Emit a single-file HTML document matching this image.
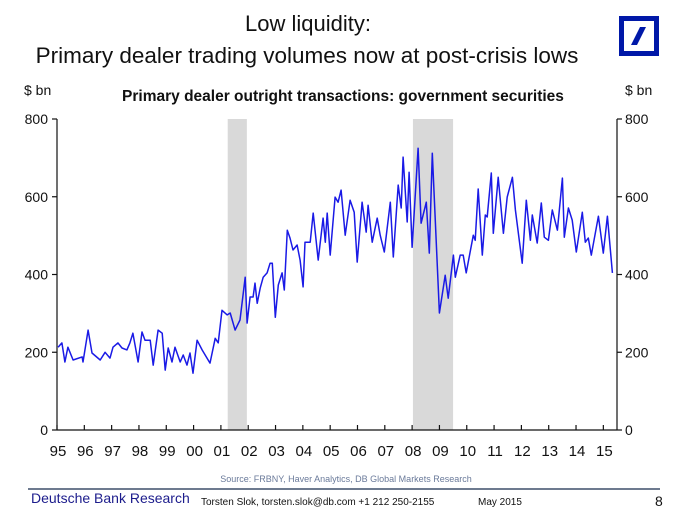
<!DOCTYPE html>
<html><head><meta charset="utf-8"><style>
body{margin:0;background:#fff;}
svg{display:block;font-family:"Liberation Sans",Arial,sans-serif;}
</style></head><body>
<svg id="c" width="687" height="528" viewBox="0 0 687 528">
<text x="308" y="31" text-anchor="middle" font-size="22" fill="#111">Low liquidity:</text>
<text x="307" y="63" text-anchor="middle" font-size="22.5" fill="#111">Primary dealer trading volumes now at post-crisis lows</text>
<g>
<rect x="621.5" y="18.5" width="35" height="35" fill="#fff" stroke="#0018a8" stroke-width="5"/>
<polygon points="640,27 646,27 637,45 631,45" fill="#0018a8"/>
</g>
<text x="343" y="101" text-anchor="middle" font-size="15.5" font-weight="bold" fill="#111">Primary dealer outright transactions: government securities</text>
<text x="24" y="95" font-size="14" fill="#111">$ bn</text>
<text x="625" y="95" font-size="14" fill="#111">$ bn</text>
<g id="rec"></g>
<g id="axes"></g>
<path id="line" fill="none" stroke="#1a1ae6" stroke-width="1.5" stroke-linejoin="round"/>
<text x="346" y="482" text-anchor="middle" font-size="9" fill="#6a7a9a">Source: FRBNY, Haver Analytics, DB Global Markets Research</text>
<line x1="28" y1="489" x2="660" y2="489" stroke="#6d7a8f" stroke-width="2"/>
<text x="31" y="503" font-size="14" fill="#1c1c8c">Deutsche Bank Research</text>
<text x="201" y="505" font-size="10" fill="#111">Torsten Slok, torsten.slok@db.com  +1 212 250-2155</text>
<text x="478" y="505" font-size="10" fill="#111">May 2015</text>
<text x="655" y="506" font-size="14" fill="#111">8</text>
</svg>
<script>
const years=[1995.04,1995.18,1995.29,1995.40,1995.59,1995.92,1995.95,1996.14,1996.28,1996.58,1996.76,1996.94,1997.05,1997.23,1997.38,1997.56,1997.67,1997.78,1997.97,1998.11,1998.22,1998.41,1998.52,1998.70,1998.85,1998.96,1999.07,1999.21,1999.32,1999.51,1999.62,1999.76,1999.87,1999.98,2000.13,2000.31,2000.60,2000.79,2000.90,2001.04,2001.23,2001.34,2001.52,2001.70,2001.89,2001.96,2002.07,2002.18,2002.25,2002.33,2002.44,2002.55,2002.69,2002.80,2002.88,2002.99,2003.10,2003.24,2003.32,2003.43,2003.53,2003.64,2003.79,2003.90,2004.01,2004.08,2004.27,2004.38,2004.56,2004.74,2004.82,2004.89,2005.00,2005.18,2005.29,2005.40,2005.55,2005.73,2005.88,2005.99,2006.17,2006.32,2006.39,2006.54,2006.72,2006.83,2006.98,2007.20,2007.31,2007.49,2007.60,2007.67,2007.82,2007.89,2008.00,2008.22,2008.33,2008.52,2008.63,2008.74,2009.00,2009.21,2009.32,2009.51,2009.58,2009.76,2009.87,2009.98,2010.24,2010.31,2010.42,2010.57,2010.68,2010.75,2010.90,2010.97,2011.15,2011.34,2011.48,2011.67,2011.78,2012.03,2012.18,2012.33,2012.40,2012.58,2012.73,2012.84,2012.99,2013.13,2013.32,2013.50,2013.57,2013.72,2013.86,2014.01,2014.23,2014.34,2014.45,2014.56,2014.82,2015.00,2015.15,2015.33];
const volumes=[213,224,175,213,180,188,175,257,198,180,200,185,213,224,211,206,224,249,175,252,231,231,167,257,249,154,211,175,213,175,193,167,198,146,231,206,172,236,224,308,296,301,257,283,393,275,342,342,378,326,365,393,404,429,429,290,373,404,360,514,494,463,476,437,368,483,483,558,437,545,483,558,450,599,586,617,501,591,560,432,586,509,578,483,545,501,458,586,445,630,571,702,535,663,470,725,532,586,455,712,301,398,339,450,393,450,450,404,501,488,620,450,553,548,661,506,650,506,599,650,566,429,591,488,553,481,584,496,488,566,514,648,496,571,540,458,560,483,494,450,550,455,550,404];
const recessions=[[2001.25,2001.95],[2008.03,2009.5]];
const yTicks=[0,200,400,600,800];
const xTickLabels=["95","96","97","98","99","00","01","02","03","04","05","06","07","08","09","10","11","12","13","14","15"];
const X0=57,X1=617,Y0=430,Y1=119,T0=1995,T1=2015.5,V1=800;
const sx=t=>X0+(t-T0)/(T1-T0)*(X1-X0);
const sy=v=>Y0-v/V1*(Y0-Y1);
const NS="http://www.w3.org/2000/svg";
function mk(tag,attrs,parent){const e=document.createElementNS(NS,tag);for(const k in attrs)e.setAttribute(k,attrs[k]);parent.appendChild(e);return e;}
const rg=document.getElementById('rec');
recessions.forEach(r=>{
 const e=mk('rect',{x:sx(r[0]),y:Y1,width:sx(r[1])-sx(r[0]),height:Y0-Y1,fill:'#d9d9d9'},rg);
 
 
});
const ax=document.getElementById('axes');
const st={stroke:'#111','stroke-width':1.2};
let l=mk('line',Object.assign({x1:X0,y1:Y1,x2:X0,y2:Y0},st),ax);

l=mk('line',Object.assign({x1:X1,y1:Y1,x2:X1,y2:Y0},st),ax);

l=mk('line',Object.assign({x1:X0,y1:Y0,x2:X1,y2:Y0},st),ax);

yTicks.forEach(v=>{
 const y=sy(v);
 mk('line',Object.assign({x1:X0-5,y1:y,x2:X0,y2:y},st),ax);
 mk('line',Object.assign({x1:X1,y1:y,x2:X1+5,y2:y},st),ax);
 let t=mk('text',{x:X0-9,y:y+5,'text-anchor':'end','font-size':14,fill:'#111'},ax);t.textContent=v;
 
 t=mk('text',{x:X1+8,y:y+5,'font-size':14,fill:'#111'},ax);t.textContent=v;
 
});
xTickLabels.forEach((s,i)=>{
 const x=sx(T0+i);
 mk('line',Object.assign({x1:x,y1:Y0-5,x2:x,y2:Y0},st),ax);
 const t=mk('text',{x:x+1,y:456,'text-anchor':'middle','font-size':15,fill:'#111'},ax);t.textContent=s;
 
});
let d='';
years.forEach((t,i)=>{d+=(i?'L':'M')+sx(t).toFixed(1)+','+sy(volumes[i]).toFixed(1);});
document.getElementById('line').setAttribute('d',d);
</script>
</body></html>
